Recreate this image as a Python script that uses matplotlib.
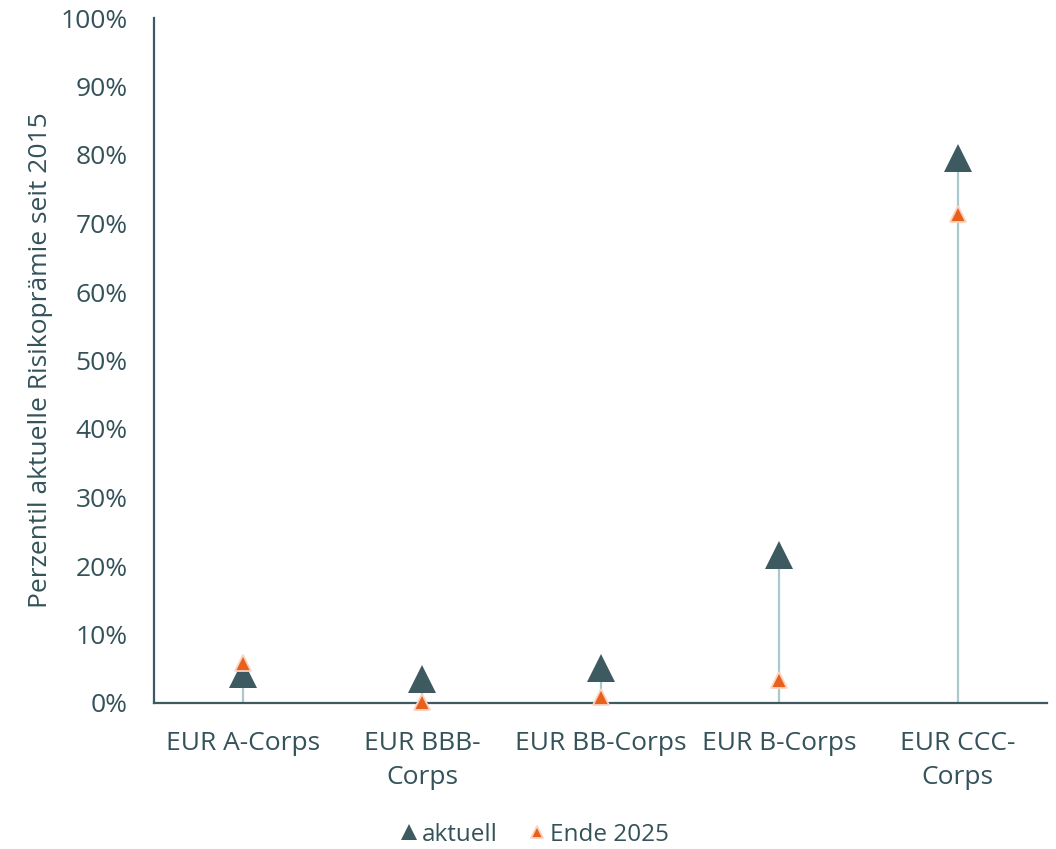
import matplotlib.pyplot as plt
from matplotlib.lines import Line2D
from matplotlib.ticker import FuncFormatter

plt.rcParams["font.family"] = ["Open Sans", "DejaVu Sans"]

categories = ["EUR A-Corps", "EUR BBB-\nCorps", "EUR BB-Corps", "EUR B-Corps", "EUR CCC-\nCorps"]
aktuell = [4.2, 3.5, 5.1, 21.6, 79.5]
ende_2025 = [5.9, 0.2, 0.9, 3.4, 71.4]

DARK = "#3d5a61"
ORANGE = "#e8601c"
ORANGE_EDGE = "#fbd3bf"
STEM = "#a9c9cd"
TEXT = "#34525a"

fig = plt.figure(figsize=(10.56, 8.49), dpi=100)
ax = fig.add_axes([154 / 1056, 1 - 703 / 849, (1047 - 154) / 1056, (703 - 18) / 849])

x = list(range(len(categories)))
ax.vlines(x, 0, aktuell, color=STEM, linewidth=1.6, zorder=1)
ax.plot(x, aktuell, linestyle="none", marker="^", markersize=19.5,
        color=DARK, markeredgewidth=0, zorder=3, clip_on=False)
ax.plot(x, ende_2025, linestyle="none", marker="^", markersize=12,
        color=ORANGE, markeredgecolor=ORANGE_EDGE, markeredgewidth=1.3, zorder=4, clip_on=False)

ax.set_xlim(-0.5, len(categories) - 0.5)
ax.set_ylim(0, 100)
ax.set_yticks(range(0, 101, 10))
ax.yaxis.set_major_formatter(FuncFormatter(lambda v, _: f"{v:.0f}%"))
ax.set_xticks(x)
ax.set_xticklabels(categories, linespacing=1.5)

for s in ["top", "right"]:
    ax.spines[s].set_visible(False)
for s in ["left", "bottom"]:
    ax.spines[s].set_color(DARK)
    ax.spines[s].set_linewidth(1.6)
    ax.spines[s].set_zorder(2)

ax.tick_params(axis="both", length=0, labelsize=19, labelcolor=TEXT)
ax.tick_params(axis="y", pad=19)
ax.tick_params(axis="x", pad=20)

ax.set_ylabel("Perzentil aktuelle Risikoprämie seit 2015", fontsize=19, color=TEXT, labelpad=5)

handles = [
    Line2D([], [], linestyle="none", marker="^", markersize=11, color=DARK, markeredgewidth=0),
    Line2D([], [], linestyle="none", marker="^", markersize=9, color=ORANGE,
           markeredgecolor=ORANGE_EDGE, markeredgewidth=1.3),
]
leg = fig.legend(handles, ["aktuell", "Ende 2025"], loc="center", bbox_to_anchor=(533 / 1056, 1 - 835 / 849),
                 ncol=2, frameon=False, fontsize=17.5, handletextpad=0.05, columnspacing=1.1,
                 handlelength=1.0)
for t in leg.get_texts():
    t.set_color(TEXT)

fig.savefig("out.png", dpi=100)
